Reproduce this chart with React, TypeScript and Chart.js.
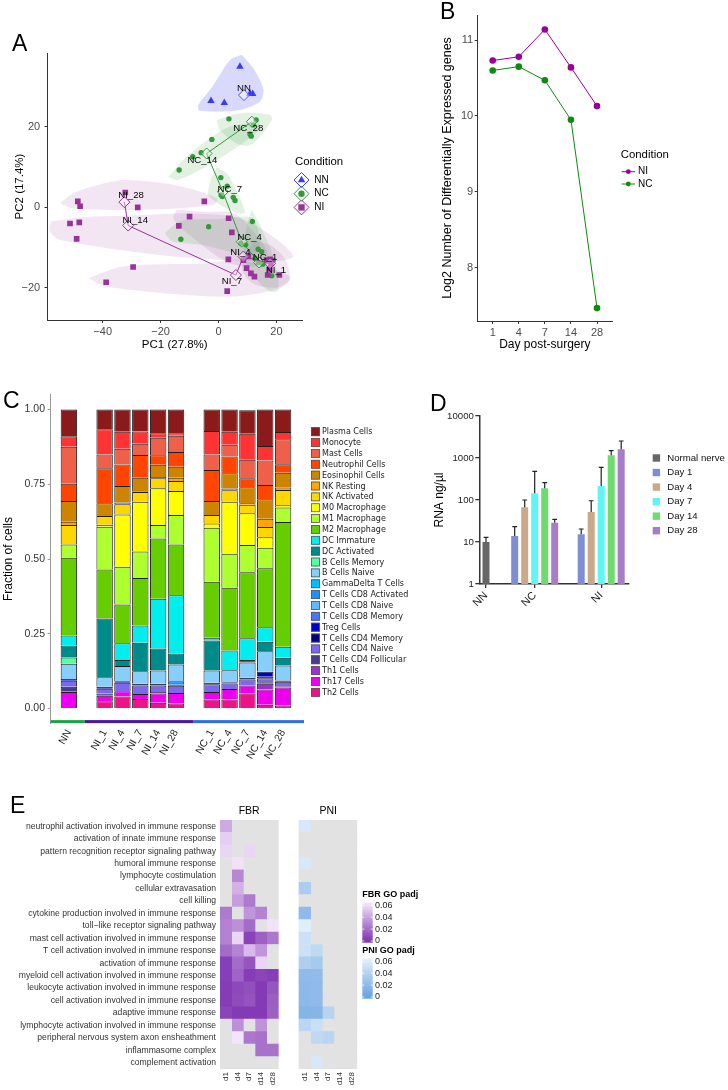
import React, { useEffect, useRef } from 'react';
import { Chart, registerables } from 'chart.js';

Chart.register(...registerables);

const SANS = '"Liberation Sans", Arial, Helvetica, sans-serif';
const DEJAVU = '"DejaVu Sans", Verdana, sans-serif';
Chart.defaults.font.family = SANS;
Chart.defaults.color = '#4d4d4d';

// ================= Panel A : PCA =================
const pcaXTicks = [-40, -20, 0, 20];
const pcaYTicks = [-20, 0, 20];
const nnSamples = [[7.4, 34.9], [-2.6, 26.4], [2.0, 25.9], [10.9, 28.2], [11.8, 28.1]];
const ncSamples = [[3.6, 21.9], [13.0, 21.6], [12.0, 20.4], [10.9, 18.1], [11.3, 17.6], [-2.3, 16.8], [-6.0, 13.5], [-8.9, 12.5], [-13.6, 9.2], [0.8, 7.3], [3.0, 5.2], [0.9, 3.0], [1.3, 2.6], [5.1, 2.4], [5.7, 1.6], [11.7, -3.6], [-3.4, -4.9], [-13.0, -8.0], [7.7, -9.0], [9.4, -9.4], [13.7, -10.5], [14.9, -11.1], [12.6, -12.8], [13.7, -13.8], [15.3, -14.2], [18.9, -13.2], [18.4, -17.1], [16.5, -13.5]];
const niSamples = [[-32.2, 3.6], [-48.6, 1.4], [-47.8, 0.2], [-27.9, -0.1], [-4.9, 1.4], [-51.3, -4.1], [-48.1, -3.8], [-49.0, -7.9], [-10.0, -2.4], [-13.7, -4.7], [3.5, -2.8], [4.6, -6.3], [3.4, -13.0], [-29.5, -14.9], [-38.8, -18.7], [3.0, -20.9], [8.6, -13.2], [9.7, -15.2], [11.2, -16.5], [12.4, -17.3], [10.3, -12.3], [16.6, -13.2], [17.8, -13.0], [18.1, -14.0], [17.0, -16.9], [21.0, -16.9], [17.6, -15.4]];
const nnCentroid = [[8.8, 27.8]];
const ncCentroidNames = ['NC_28', 'NC_14', 'NC_7', 'NC_4', 'NC_1'];
const ncCentroids = [[11.5, 21.2], [-4.1, 13.3], [1.5, 3.8], [8.0, -8.6], [14.0, -13.8]];
const niCentroidNames = ['NI_28', 'NI_14', 'NI_7', 'NI_4', 'NI_1'];
const niCentroids = [[-32.5, 1.2], [-31.2, -4.6], [6.0, -16.9], [8.6, -12.3], [17.8, -14.0]];
const nnHull = [[8, 37.8], [12.5, 34], [15.5, 29.1], [14.3, 26.2], [7.4, 24.1], [-6.4, 23.9], [-7, 25.3], [-2, 30], [4, 36.5]];
const nc28Hull = [[-0.6, 21.6], [7.4, 23.3], [17.8, 22.9], [18.4, 21.6], [12, 15.8], [7.4, 15.4], [0.5, 19.1]];
const nc14Hull = [[-17.3, 7.5], [-11, 12.5], [2.8, 19.6], [13.2, 20.8], [14.9, 19.6], [5.1, 14.2], [-6.4, 9.2], [-14.4, 6.7]];
const nc7Hull = [[-0.6, 10], [3.3, 8], [9.2, -1.2], [6.8, -1.6], [-3.2, 2.6], [-2.7, 6.7]];
const nc4Hull = [[-18.5, -6.5], [-13, -3.5], [0, -3], [11, -2.5], [13.5, -5], [14, -10.5], [10, -12], [-5, -9.5], [-16, -8.5]];
const nc1Hull = [[11.5, -0.7], [14, -4], [18.9, -12.3], [20.7, -20.6], [17.8, -21], [12, -17], [8.6, -12.3], [9.7, -4.9]];
const ni28Hull = [[-54.7, 0.9], [-50.2, 3.4], [-40, 5.8], [-31.7, 6.7], [-15.6, 5.5], [-0.6, 2.2], [-1.8, 0.5], [-27.1, -0.7], [-50.2, -0.3]];
const ni14Hull = [[-58, -3.6], [-47.8, -2.6], [-25, -2], [-9.8, -1.6], [7.4, -2.8], [20, -8], [25.8, -12.3], [18.9, -13.5], [-15.6, -12.3], [-54.7, -8.2], [-58.2, -6.1]];
const ni7Hull = [[-44.9, -17.7], [-32.9, -14.8], [-4.1, -14], [7.4, -13.2], [24.7, -17.3], [21.2, -20.2], [2.8, -22.3], [-38.6, -19.8]];
const ni4Hull = [[-14.5, -0.6], [-5, -1.2], [5, -1.5], [12, -6], [17, -11.5], [14, -14.5], [4, -14], [-10, -7], [-15.5, -3]];
const ni1Hull = [[12, -8.5], [18, -9.5], [23, -13], [24.5, -18], [20, -20], [12, -19], [8, -15]];
const conditionNames = ['NN', 'NC', 'NI'];

// ================= Panel B : DEG =================
const dayLabels = ['1', '4', '7', '14', '28'];
const niDeg = [10.73, 10.78, 11.14, 10.64, 10.13];
const ncDeg = [10.60, 10.65, 10.47, 9.95, 7.47];
const degTicks = [8, 9, 10, 11];

// ================= Panel C : cell fractions =================
const cCategories = ['NN', 'NI_1', 'NI_4', 'NI_7', 'NI_14', 'NI_28', 'NC_1', 'NC_4', 'NC_7', 'NC_14', 'NC_28'];
const cGroups = ['NN', 'NI', 'NI', 'NI', 'NI', 'NI', 'NC', 'NC', 'NC', 'NC', 'NC'];
const cGroupOrder = ['NN', 'NI', 'NC'];
const cYTicks = [0, 0.25, 0.5, 0.75, 1];
const cellTypes = ['Plasma Cells', 'Monocyte', 'Mast Cells', 'Neutrophil Cells', 'Eosinophil Cells', 'NK Resting', 'NK Activated', 'M0 Macrophage', 'M1 Macrophage', 'M2 Macrophage', 'DC Immature', 'DC Activated', 'B Cells Memory', 'B Cells Naive', 'GammaDelta T Cells', 'T Cells CD8 Activated', 'T Cells CD8 Naive', 'T Cells CD8 Memory', 'Treg Cells', 'T Cells CD4 Memory', 'T Cells CD4 Naive', 'T Cells CD4 Follicular', 'Th1 Cells', 'Th17 Cells', 'Th2 Cells'];
const plasmaCells = [0.089, 0.066, 0.074, 0.073, 0.079, 0.079, 0.072, 0.074, 0.079, 0.122, 0.075];
const monocyte = [0.035, 0.084, 0.057, 0.041, 0.015, 0.009, 0.078, 0.044, 0.087, 0.048, 0.024];
const mastCells = [0.124, 0.046, 0.053, 0.038, 0.059, 0.054, 0.052, 0.039, 0.062, 0.082, 0.084];
const neutrophilCells = [0.058, 0.117, 0.072, 0.076, 0.032, 0.049, 0.104, 0.056, 0.030, 0.048, 0.028];
const eosinophilCells = [0.069, 0.043, 0.055, 0.045, 0.041, 0.037, 0.047, 0.051, 0.053, 0.065, 0.050];
const nkResting = [0.011, 0, 0.006, 0.003, 0.004, 0.011, 0, 0.006, 0.005, 0.028, 0.008];
const nkActivated = [0.065, 0.029, 0.034, 0.032, 0.033, 0.033, 0.028, 0.038, 0.029, 0.034, 0.051];
const m0Macrophage = [0, 0.007, 0.175, 0.167, 0.123, 0.081, 0.014, 0.174, 0.106, 0.035, 0.008];
const m1Macrophage = [0.045, 0.143, 0.126, 0.088, 0.045, 0.098, 0.181, 0.114, 0.091, 0.069, 0.048];
const m2Macrophage = [0.260, 0.164, 0.130, 0.159, 0.202, 0.170, 0.187, 0.210, 0.221, 0.197, 0.417];
const dcImmature = [0.033, 0, 0.056, 0.058, 0.166, 0.195, 0.009, 0.066, 0.073, 0.049, 0.037];
const dcActivated = [0.040, 0.196, 0.020, 0.095, 0.074, 0.037, 0.101, 0, 0.008, 0.031, 0.026];
const bCellsMemory = [0.021, 0, 0, 0, 0, 0, 0, 0, 0, 0, 0];
const bCellsNaive = [0.051, 0.032, 0.051, 0.042, 0.044, 0.056, 0.041, 0.040, 0.051, 0.069, 0.050];
const gammaDeltaT = [0, 0, 0, 0, 0, 0, 0, 0, 0, 0, 0];
const cd8Activated = [0, 0, 0, 0, 0, 0.011, 0, 0, 0, 0, 0];
const cd8Naive = [0, 0, 0, 0, 0, 0, 0, 0, 0, 0, 0];
const cd8Memory = [0, 0, 0, 0, 0, 0, 0, 0, 0, 0, 0];
const tregCells = [0.006, 0, 0, 0, 0, 0, 0, 0, 0, 0.017, 0];
const cd4Memory = [0, 0.007, 0.005, 0.006, 0.006, 0.004, 0.005, 0.004, 0.006, 0.005, 0.004];
const cd4Naive = [0.020, 0.016, 0.028, 0.028, 0.022, 0.024, 0.026, 0.019, 0.020, 0.013, 0.015];
const cd4Follicular = [0.015, 0.007, 0, 0, 0, 0, 0, 0, 0, 0.005, 0];
const th1Cells = [0.003, 0, 0, 0, 0.005, 0, 0, 0, 0, 0.019, 0.005];
const th17Cells = [0.053, 0.019, 0.018, 0.017, 0.031, 0.035, 0.025, 0.035, 0.027, 0.051, 0.060];
const th2Cells = [0.002, 0.024, 0.040, 0.032, 0.019, 0.017, 0.030, 0.030, 0.050, 0.013, 0.010];
const cellSeries = [plasmaCells, monocyte, mastCells, neutrophilCells, eosinophilCells, nkResting, nkActivated, m0Macrophage, m1Macrophage, m2Macrophage, dcImmature, dcActivated, bCellsMemory, bCellsNaive, gammaDeltaT, cd8Activated, cd8Naive, cd8Memory, tregCells, cd4Memory, cd4Naive, cd4Follicular, th1Cells, th17Cells, th2Cells];

// ================= Panel D : RNA =================
const rnaGroups = ['NN', 'NC', 'NI'];
const rnaSeries = ['Normal nerve', 'Day 1', 'Day 4', 'Day 7', 'Day 14', 'Day 28'];
const nnRna = [10];
const nnRnaErr = [12.9];
const ncRna = [13.9, 67, 144, 190, 28.8];
const ncRnaErr = [23.2, 100, 482, 258, 34.7];
const niRna = [15.2, 51.8, 215, 1159, 1610];
const niRnaErr = [20.4, 96, 600, 1493, 2540];
const rnaTicks = [1, 10, 100, 1000, 10000];

// ================= Panel E : GO heatmap =================
const goTerms = ['neutrophil activation involved in immune response', 'activation of innate immune response', 'pattern recognition receptor signaling pathway', 'humoral immune response', 'lymphocyte costimulation', 'cellular extravasation', 'cell killing', 'cytokine production involved in immune response', 'toll\u2212like receptor signaling pathway', 'mast cell activation involved in immune response', 'T cell activation involved in immune response', 'activation of immune response', 'myeloid cell activation involved in immune response', 'leukocyte activation involved in immune response', 'cell activation involved in immune response', 'adaptive immune response', 'lymphocyte activation involved in immune response', 'peripheral nervous system axon ensheathment', 'inflammasome complex', 'complement activation'];
const goDays = ['d1', 'd4', 'd7', 'd14', 'd28'];
const fbrPadj = [
  [0.042, null, null, null, null],
  [0.055, null, null, null, null],
  [0.058, null, 0.058, null, null],
  [null, 0.062, null, null, null],
  [null, 0.030, null, null, null],
  [null, 0.045, null, null, null],
  [null, 0.038, 0.025, null, null],
  [0.025, null, 0.035, 0.028, null],
  [0.028, 0.033, 0.020, null, 0.062],
  [0.028, 0.058, 0.005, 0.016, 0.024],
  [0.020, 0.028, 0.048, 0.035, null],
  [0.004, 0.020, 0.012, 0.058, null],
  [0.004, 0.017, 0.003, 0.006, 0.004],
  [0.003, 0.007, 0.010, 0.002, 0.012],
  [0.003, 0.008, 0.011, 0.002, 0.015],
  [0.006, 0.002, 0.002, 0.002, 0.016],
  [null, 0.033, null, 0.034, null],
  [null, 0.063, 0.024, 0.022, null],
  [null, null, null, 0.022, 0.022],
  [null, null, null, null, null],
];
const pniPadj = [
  [0.058, null, null, null, null],
  [null, null, null, null, null],
  [null, null, null, null, null],
  [0.058, null, null, null, null],
  [null, null, null, null, null],
  [0.035, null, null, null, null],
  [null, null, null, null, null],
  [0.020, null, null, null, null],
  [0.062, null, null, null, null],
  [0.052, null, null, null, null],
  [0.052, 0.045, null, null, null],
  [0.037, 0.032, null, null, null],
  [0.020, 0.021, null, null, null],
  [0.019, 0.020, null, null, null],
  [0.019, 0.020, null, null, null],
  [0.015, 0.016, 0.040, null, null],
  [0.043, 0.050, null, null, null],
  [null, 0.045, 0.042, null, null],
  [null, null, null, null, null],
  [null, 0.058, null, null, null],
];
const padjLegendTicks = [0.06, 0.04, 0.02, 0];

// ================= styles =================
const NN_COLOR = '#3b3bf4';
const NC_COLOR = '#339a3a';
const NI_COLOR = '#993399';
const NI_LINE = '#990099';
const NC_LINE = '#0e8a0e';
const cellColors = ['#8b1a1a', '#ff3333', '#ee6049', '#ff4500', '#cd8500', '#ffa500', '#ffd700', '#ffff00', '#adff2f', '#66cd00', '#00eeee', '#008b8b', '#54ff9f', '#87cefa', '#00bfff', '#1e90ff', '#63b8ff', '#4876ff', '#0000cd', '#000080', '#7b68ee', '#483d8b', '#9a32cd', '#ee00ee', '#ee1289'];
const cGroupColors = ['#1fa34a', '#4b14a3', '#2f6fe6'];
const rnaColors = ['#676767', '#7d8dd6', '#c9a98a', '#5ff5f5', '#6ddc6d', '#a77dc8'];
const FBR_LOW = [128, 52, 178];
const FBR_HIGH = [246, 234, 252];
const PNI_LOW = [104, 162, 224];
const PNI_HIGH = [230, 241, 252];
const PADJ_MAX = 0.065;
const NA_GRAY = '#e2e2e2';
const PNI_START = 6.77;

const toXY = (arr: number[][]) => arr.map(([x, y]) => ({ x, y }));

function padjColor(v: number, low: number[], high: number[]) {
  const t = Math.max(0, Math.min(1, v / PADJ_MAX));
  const c = low.map((l, k) => Math.round(l + (high[k] - l) * t));
  return `rgb(${c[0]},${c[1]},${c[2]})`;
}

function shapePath(ctx: any, style: string, x: number, y: number, r: number) {
  ctx.beginPath();
  if (style === 'circle') ctx.arc(x, y, r, 0, Math.PI * 2);
  else if (style === 'rect') {
    const s = r * Math.SQRT1_2;
    ctx.rect(x - s, y - s, 2 * s, 2 * s);
  } else if (style === 'triangle') {
    for (let k = 0; k < 3; k++) {
      const a = (k * 2 * Math.PI) / 3;
      const px = x + Math.sin(a) * r;
      const py = y - Math.cos(a) * r;
      if (k === 0) ctx.moveTo(px, py);
      else ctx.lineTo(px, py);
    }
    ctx.closePath();
  } else {
    ctx.moveTo(x - r, y);
    ctx.lineTo(x, y - r);
    ctx.lineTo(x + r, y);
    ctx.lineTo(x, y + r);
    ctx.closePath();
  }
}

const minusFmt = (v: number) => (v < 0 ? '\u2212' + Math.abs(v) : String(v));

const baseOptions = (padding: any) => ({
  animation: false,
  responsive: false,
  events: [],
  layout: { padding, autoPadding: false },
  plugins: { legend: { display: false }, tooltip: { enabled: false } },
});

// ---------- Panel A config ----------
const pcaOverlay = {
  id: 'pcaOverlay',
  afterDatasetsDraw(chart: any) {
    const { ctx } = chart;
    const x = chart.scales.x;
    const y = chart.scales.y;
    ctx.save();
    ctx.fillStyle = '#000';
    ctx.font = `9.6px ${SANS}`;
    ctx.textAlign = 'center';
    ctx.textBaseline = 'middle';
    const put = (names: string[], cents: number[][], offs: number[][]) =>
      names.forEach((n, i) => {
        ctx.fillText(n, x.getPixelForValue(cents[i][0]) + offs[i][0], y.getPixelForValue(cents[i][1]) + offs[i][1]);
      });
    put(['NN'], nnCentroid, [[0, -7]]);
    put(ncCentroidNames, ncCentroids, [[-3.5, 6.6], [-4.3, 6.5], [7, -2], [8, -4], [6, -5]]);
    put(niCentroidNames, niCentroids, [[6.6, -7], [7, -5.5], [-4, 6], [-3, -4], [6, 6.5]]);
    ctx.textAlign = 'left';
    ctx.font = `11.4px ${SANS}`;
    ctx.fillText('Condition', 295, 162);
    const styles = ['triangle', 'circle', 'rect'];
    const colors = [NN_COLOR, NC_COLOR, NI_COLOR];
    const radii = [4.3, 3.2, 4.5];
    conditionNames.forEach((name, i) => {
      const cy = 180 + i * 13.7;
      const cx = 301.5;
      shapePath(ctx, 'rectRot', cx, cy, 7.5);
      ctx.strokeStyle = colors[i];
      ctx.lineWidth = 1;
      ctx.stroke();
      shapePath(ctx, styles[i], cx, cy, radii[i]);
      ctx.fillStyle = colors[i];
      ctx.fill();
      ctx.fillStyle = '#000';
      ctx.font = `10px ${SANS}`;
      ctx.fillText(name, 314.3, cy);
    });
    ctx.restore();
  },
};

function makeA() {
  const hull = (pts: number[][], color: string) => ({
    data: toXY([...pts, pts[0]]),
    showLine: true,
    fill: 'shape',
    backgroundColor: color,
    borderColor: 'rgba(0,0,0,0)',
    borderWidth: 0,
    pointRadius: 0,
    tension: 0.3,
    order: 10,
  });
  const nnFill = 'rgba(95,95,245,0.24)';
  const ncFill = 'rgba(60,160,60,0.15)';
  const niFill = 'rgba(150,60,150,0.13)';
  const centroidSet = (pts: number[][], color: string, line: boolean) => ({
    data: toXY(pts),
    showLine: line,
    borderColor: color,
    borderWidth: 1,
    pointStyle: 'rectRot',
    pointRadius: 5.5,
    pointBorderColor: color,
    pointBackgroundColor: 'rgba(255,255,255,0.35)',
    pointBorderWidth: 1,
    order: 1,
  });
  const samples = (pts: number[][], style: string, r: number, color: string) => ({
    data: toXY(pts),
    pointStyle: style,
    pointRadius: r,
    pointBackgroundColor: color,
    backgroundColor: color,
    pointBorderWidth: 0,
    order: 5,
  });
  const axis = {
    border: { display: true, color: '#333', width: 1 },
    grid: { display: true, drawOnChartArea: false, drawTicks: true, tickLength: 3, color: '#333' },
  };
  return {
    type: 'scatter',
    data: {
      datasets: [
        centroidSet(niCentroids, NI_COLOR, true),
        centroidSet(ncCentroids, NC_COLOR, true),
        centroidSet(nnCentroid, '#5050f0', false),
        samples(niSamples, 'rect', 4, NI_COLOR),
        samples(ncSamples, 'circle', 2.7, NC_COLOR),
        samples(nnSamples, 'triangle', 4.3, NN_COLOR),
        hull(nnHull, nnFill),
        hull(nc28Hull, ncFill),
        hull(nc14Hull, ncFill),
        hull(nc7Hull, ncFill),
        hull(nc4Hull, ncFill),
        hull(nc1Hull, ncFill),
        hull(ni28Hull, niFill),
        hull(ni14Hull, niFill),
        hull(ni7Hull, niFill),
        hull(ni4Hull, niFill),
        hull(ni1Hull, niFill),
      ],
    },
    options: {
      ...baseOptions({ left: 0, top: 53, right: 68, bottom: 0 }),
      scales: {
        x: {
          type: 'linear',
          min: -59.07,
          max: 28.84,
          afterFit: (s: any) => { s.height = 40; },
          afterBuildTicks: (s: any) => { s.ticks = pcaXTicks.map((v) => ({ value: v })); },
          ticks: { font: { size: 11 }, color: '#4d4d4d', padding: 2, callback: (v: number) => minusFmt(v), maxRotation: 0 },
          title: { display: true, text: 'PC1 (27.8%)', font: { size: 11.5 }, color: '#000', padding: { top: 0, bottom: 8.1 } },
          ...axis,
        },
        y: {
          type: 'linear',
          min: -28.07,
          max: 38.26,
          afterFit: (s: any) => { s.width = 47.5; },
          afterBuildTicks: (s: any) => { s.ticks = pcaYTicks.map((v) => ({ value: v })); },
          ticks: { font: { size: 11 }, color: '#4d4d4d', padding: 4.3, callback: (v: number) => minusFmt(v) },
          title: { display: true, text: 'PC2 (17.4%)', font: { size: 11.5 }, color: '#000', padding: { top: 13.1, bottom: 0 } },
          ...axis,
        },
      },
    },
    plugins: [pcaOverlay],
  };
}

// ---------- Panel B config ----------
const legendB = {
  id: 'legendB',
  afterDraw(chart: any) {
    const { ctx } = chart;
    ctx.save();
    ctx.fillStyle = '#000';
    ctx.textAlign = 'left';
    ctx.textBaseline = 'middle';
    ctx.font = `11.4px ${SANS}`;
    ctx.fillText('Condition', 250.7, 155);
    const names = ['NI', 'NC'];
    const colors = [NI_LINE, NC_LINE];
    names.forEach((n, i) => {
      const cy = 171.7 + i * 12.3;
      ctx.strokeStyle = colors[i];
      ctx.lineWidth = 1;
      ctx.beginPath();
      ctx.moveTo(251.7, cy);
      ctx.lineTo(265, cy);
      ctx.stroke();
      shapePath(ctx, 'circle', 258.3, cy, 2.4);
      ctx.fillStyle = colors[i];
      ctx.fill();
      ctx.fillStyle = '#000';
      ctx.font = `10px ${SANS}`;
      ctx.fillText(n, 268, cy);
    });
    ctx.restore();
  },
};

function makeB() {
  const line = (label: string, vals: number[], color: string) => ({
    label,
    data: vals.map((y, i) => ({ x: i + 1, y })),
    showLine: true,
    borderColor: color,
    backgroundColor: color,
    borderWidth: 1,
    pointRadius: 3.3,
    pointBorderWidth: 0,
    pointBackgroundColor: color,
  });
  const axis = {
    border: { display: true, color: '#333', width: 1 },
    grid: { display: true, drawOnChartArea: false, drawTicks: true, tickLength: 3, color: '#333' },
  };
  return {
    type: 'scatter',
    data: { datasets: [line('NI', niDeg, NI_LINE), line('NC', ncDeg, NC_LINE)] },
    options: {
      ...baseOptions({ left: 0, top: 15, right: 116, bottom: 0 }),
      scales: {
        x: {
          type: 'linear',
          min: 0.425,
          max: 5.575,
          offset: false,
          afterFit: (s: any) => { s.height = 39; },
          afterBuildTicks: (s: any) => { s.ticks = dayLabels.map((_, i) => ({ value: i + 1 })); },
          ticks: { font: { size: 11 }, color: '#4d4d4d', padding: 2, autoSkip: false, maxRotation: 0, callback: (_v: any, i: number) => dayLabels[i] },
          title: { display: true, text: 'Day post-surgery', font: { size: 12 }, color: '#000', padding: { top: 0, bottom: 7.8 } },
          ...axis,
        },
        y: {
          type: 'linear',
          min: 7.3,
          max: 11.33,
          afterFit: (s: any) => { s.width = 107.7; },
          afterBuildTicks: (s: any) => { s.ticks = degTicks.map((v) => ({ value: v })); },
          ticks: { font: { size: 11 }, color: '#4d4d4d', padding: 1.5 },
          title: { display: true, text: 'Log2 Number of Differentially Expressed genes', font: { size: 12.5 }, color: '#000', padding: { top: 70, bottom: 0 } },
          ...axis,
        },
      },
    },
    plugins: [legendB],
  };
}

// ---------- Panel C config ----------
const cOverlay = {
  id: 'cOverlay',
  afterDraw(chart: any) {
    const { ctx, chartArea } = chart;
    const x = chart.scales.x;
    ctx.save();
    const bounds = [chartArea.left, x.getPixelForValue(0.9), x.getPixelForValue(6.95), chartArea.right];
    cGroupColors.forEach((c, i) => {
      ctx.fillStyle = c;
      ctx.fillRect(bounds[i], chartArea.bottom - 3.4, bounds[i + 1] - bounds[i], 3);
    });
    ctx.font = `8px ${DEJAVU}`;
    ctx.textAlign = 'left';
    ctx.textBaseline = 'middle';
    cellTypes.forEach((name, i) => {
      const cy = 51.7 + i * 10.86;
      ctx.fillStyle = cellColors[i];
      ctx.fillRect(311, cy - 4.4, 8.8, 8.8);
      ctx.strokeStyle = '#555';
      ctx.lineWidth = 0.8;
      ctx.strokeRect(311.4, cy - 4, 8, 8);
      ctx.fillStyle = '#222';
      ctx.fillText(name, 322, cy + 0.5);
    });
    ctx.restore();
  },
};

function makeC() {
  const pos = cCategories.map((_, i) => i + cGroupOrder.indexOf(cGroups[i]));
  const datasets = cellTypes
    .map((name, k) => ({
      label: name,
      data: cellSeries[k].map((v, i) => ({ x: pos[i], y: v })),
      backgroundColor: cellColors[k],
      borderColor: '#1e1e1e',
      borderWidth: 1,
      categoryPercentage: 1,
      barPercentage: 0.92,
    }))
    .reverse();
  return {
    type: 'bar',
    data: { datasets },
    options: {
      ...baseOptions({ left: 0, top: 14.6, right: 136, bottom: 0 }),
      scales: {
        x: {
          type: 'linear',
          stacked: true,
          offset: false,
          min: -1.02,
          max: 13.17,
          afterFit: (s: any) => { s.height = 66.5; },
          afterBuildTicks: (s: any) => { s.ticks = pos.map((v) => ({ value: v })); },
          ticks: { font: { size: 10.3 }, color: '#222', padding: 4, autoSkip: false, minRotation: 60, maxRotation: 60, callback: (_v: any, i: number) => cCategories[i] },
          grid: { display: false, drawTicks: false, offset: false },
          border: { display: false },
        },
        y: {
          type: 'linear',
          stacked: true,
          min: -0.05,
          max: 1.05,
          afterFit: (s: any) => { s.width = 50.7; },
          afterBuildTicks: (s: any) => { s.ticks = cYTicks.map((v) => ({ value: v })); },
          ticks: { font: { size: 10.5 }, color: '#333', padding: 2.7, callback: (v: number) => v.toFixed(2) },
          title: { display: true, text: 'Fraction of cells', font: { size: 12 }, color: '#000', padding: { top: 1, bottom: 0 } },
          border: { display: true, color: '#999', width: 1 },
          grid: { display: true, drawOnChartArea: false, drawTicks: true, tickLength: 3, color: '#999' },
        },
      },
    },
    plugins: [cOverlay],
  };
}

// ---------- Panel D config ----------
const dGroupStarts = [0, 2.87, 9.52];
const dOverlay = {
  id: 'dOverlay',
  afterDatasetsDraw(chart: any) {
    const { ctx } = chart;
    const y = chart.scales.y;
    ctx.save();
    ctx.strokeStyle = '#222';
    ctx.lineWidth = 1.2;
    chart.data.datasets.forEach((ds: any, di: number) => {
      const meta = chart.getDatasetMeta(di);
      meta.data.forEach((bar: any, j: number) => {
        const top = y.getPixelForValue(ds.errUpper[j]);
        ctx.beginPath();
        ctx.moveTo(bar.x, bar.y);
        ctx.lineTo(bar.x, top);
        ctx.moveTo(bar.x - 2.4, top);
        ctx.lineTo(bar.x + 2.4, top);
        ctx.stroke();
      });
    });
    ctx.restore();
  },
  afterDraw(chart: any) {
    const { ctx } = chart;
    ctx.save();
    ctx.font = `9.6px ${SANS}`;
    ctx.textAlign = 'left';
    ctx.textBaseline = 'middle';
    rnaSeries.forEach((name, i) => {
      const cy = 78 + i * 14.54;
      ctx.fillStyle = rnaColors[i];
      ctx.fillRect(222.7, cy - 3.7, 7.4, 7.4);
      ctx.fillStyle = '#111';
      ctx.fillText(name, 237.3, cy);
    });
    ctx.restore();
  },
};

function makeD() {
  const common = { categoryPercentage: 1, barPercentage: 0.7, grouped: false, borderWidth: 0 };
  const datasets: any[] = [
    { label: rnaSeries[0], data: nnRna.map((v) => ({ x: dGroupStarts[0], y: v })), errUpper: nnRnaErr, backgroundColor: rnaColors[0], ...common },
  ];
  ncRna.forEach((v, k) => {
    datasets.push({
      label: rnaSeries[k + 1],
      data: [{ x: dGroupStarts[1] + k, y: v }, { x: dGroupStarts[2] + k, y: niRna[k] }],
      errUpper: [ncRnaErr[k], niRnaErr[k]],
      backgroundColor: rnaColors[k + 1],
      ...common,
    });
  });
  const centers = [dGroupStarts[0], dGroupStarts[1] + 2, dGroupStarts[2] + 2];
  return {
    type: 'bar',
    data: { datasets },
    options: {
      ...baseOptions({ left: 0, top: 36, right: 99.7, bottom: 0 }),
      scales: {
        x: {
          type: 'linear',
          offset: false,
          min: -0.67,
          max: 14.23,
          afterFit: (s: any) => { s.height = 46; },
          afterBuildTicks: (s: any) => { s.ticks = centers.map((v) => ({ value: v })); },
          ticks: { font: { size: 11 }, color: '#222', padding: 1, autoSkip: false, minRotation: 45, maxRotation: 45, callback: (_v: any, i: number) => rnaGroups[i] },
          grid: { display: true, drawOnChartArea: false, tickLength: 4, color: '#333', lineWidth: 1.3, offset: false },
          border: { display: true, color: '#333', width: 1.5 },
        },
        y: {
          type: 'logarithmic',
          min: 1,
          max: 10000,
          afterFit: (s: any) => { s.width = 49.3; },
          afterBuildTicks: (s: any) => { s.ticks = rnaTicks.map((v) => ({ value: v })); },
          ticks: { font: { size: 9.6 }, color: '#222', padding: 1.5, callback: (v: number) => String(v) },
          title: { display: true, text: 'RNA ng/\u00b5l', font: { size: 12 }, color: '#000', padding: { top: 2.1, bottom: 0 } },
          grid: { display: true, drawOnChartArea: false, tickLength: 4, color: '#333', lineWidth: 1.3 },
          border: { display: true, color: '#333', width: 1.5 },
        },
      },
    },
    plugins: [dOverlay],
  };
}

// ---------- Panel E config ----------
const eOverlay = {
  id: 'eOverlay',
  afterDraw(chart: any) {
    const { ctx } = chart;
    const x = chart.scales.x;
    ctx.save();
    ctx.fillStyle = '#000';
    ctx.font = `10.5px ${SANS}`;
    ctx.textAlign = 'center';
    ctx.textBaseline = 'middle';
    ctx.fillText('FBR', x.getPixelForValue(2), 11);
    ctx.fillText('PNI', x.getPixelForValue(PNI_START + 2), 11);
    const vTop = 0.0653;
    const vSpan = 0.0683;
    const bar = (title: string, low: number[], high: number[], titleY: number, top: number) => {
      const h = 40.4;
      const left = 362.3;
      const w = 10.4;
      ctx.textAlign = 'left';
      ctx.fillStyle = '#000';
      ctx.font = `bold 9px ${SANS}`;
      ctx.fillText(title, 362.3, titleY);
      const g = ctx.createLinearGradient(0, top, 0, top + h);
      for (let k = 0; k <= 10; k++) {
        const t = k / 10;
        g.addColorStop(t, padjColor(vTop - t * vSpan, low, high));
      }
      ctx.fillStyle = g;
      ctx.fillRect(left, top, w, h);
      ctx.font = `9px ${SANS}`;
      padjLegendTicks.forEach((v) => {
        const yy = top + ((vTop - v) / vSpan) * h;
        ctx.strokeStyle = '#fff';
        ctx.lineWidth = 0.8;
        ctx.beginPath();
        ctx.moveTo(left, yy);
        ctx.lineTo(left + 2, yy);
        ctx.moveTo(left + w - 2, yy);
        ctx.lineTo(left + w, yy);
        ctx.stroke();
        ctx.fillStyle = '#222';
        ctx.fillText(v === 0 ? '0' : v.toFixed(2), 375, yy);
      });
    };
    bar('FBR GO padj', FBR_LOW, FBR_HIGH, 95, 102.3);
    bar('PNI GO padj', PNI_LOW, PNI_HIGH, 151, 158.3);
    ctx.restore();
  },
};

function makeE() {
  const cols: any[] = [];
  goDays.forEach((_, j) => cols.push({ m: fbrPadj, j, x: j, low: FBR_LOW, high: FBR_HIGH }));
  goDays.forEach((_, j) => cols.push({ m: pniPadj, j, x: PNI_START + j, low: PNI_LOW, high: PNI_HIGH }));
  const datasets = cols.map((c) => ({
    data: goTerms.map(() => [c.x - 0.5, c.x + 0.5]),
    backgroundColor: goTerms.map((_, r) => (c.m[r][c.j] == null ? NA_GRAY : padjColor(c.m[r][c.j], c.low, c.high))),
    borderWidth: 0,
    grouped: false,
    categoryPercentage: 1,
    barPercentage: 1,
  }));
  const tickPos = cols.map((c) => c.x);
  return {
    type: 'bar',
    data: { labels: goTerms, datasets },
    options: {
      ...baseOptions({ left: 0, top: 20, right: 82.7, bottom: 0 }),
      indexAxis: 'y',
      scales: {
        x: {
          type: 'linear',
          offset: false,
          min: -0.5,
          max: PNI_START + 4.5,
          afterFit: (s: any) => { s.height = 21; },
          afterBuildTicks: (s: any) => { s.ticks = tickPos.map((v) => ({ value: v })); },
          ticks: { font: { size: 8 }, color: '#333', padding: 3, autoSkip: false, minRotation: 90, maxRotation: 90, callback: (_v: any, i: number) => goDays[i % goDays.length] },
          grid: { display: false, drawTicks: false },
          border: { display: false },
        },
        y: {
          type: 'category',
          afterFit: (s: any) => { s.width = 220; },
          ticks: { font: { size: 8.6 }, color: '#333', padding: 4, autoSkip: false },
          grid: { display: false, drawTicks: false },
          border: { display: false },
        },
      },
    },
    plugins: [eOverlay],
  };
}

// ================= components =================
function ChartBox({ left, top, width, height, make }: any) {
  const ref = useRef<HTMLCanvasElement>(null);
  useEffect(() => {
    const chart = new Chart(ref.current as any, make());
    return () => chart.destroy();
  }, [make]);
  return <canvas ref={ref} width={width} height={height} style={{ position: 'absolute', left, top, width, height }} />;
}

const panelLetters = [
  ['A', 12, 32],
  ['B', 440, 0],
  ['C', 3, 389],
  ['D', 430, 392],
  ['E', 10, 794],
];

export default function App() {
  return (
    <div style={{ position: 'absolute', left: 0, top: 0, width: 728, height: 1090, background: '#fff', overflow: 'hidden' }}>
      <ChartBox left={0} top={0} width={370} height={360} make={makeA} />
      <ChartBox left={370} top={0} width={358} height={360} make={makeB} />
      <ChartBox left={0} top={380} width={440} height={410} make={makeC} />
      <ChartBox left={430} top={380} width={298} height={250} make={makeD} />
      <ChartBox left={0} top={800} width={440} height={290} make={makeE} />
      {panelLetters.map(([t, l, tp]) => (
        <div key={t as string} style={{ position: 'absolute', left: l as number, top: tp as number, fontFamily: SANS, fontSize: 23, lineHeight: '23px', color: '#000' }}>
          {t}
        </div>
      ))}
    </div>
  );
}
